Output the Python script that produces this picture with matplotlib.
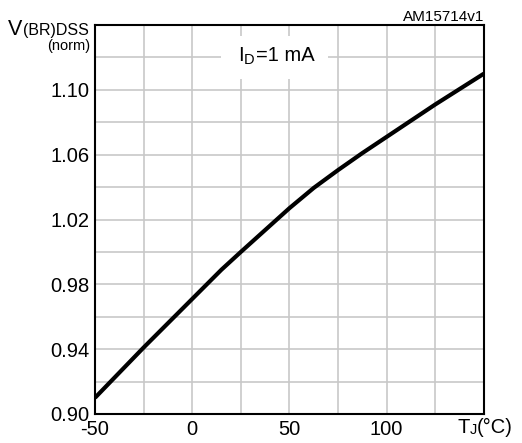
import matplotlib
matplotlib.use("Agg")
import matplotlib.pyplot as plt
from matplotlib.patches import Rectangle

plt.rcParams["font.family"] = ["Liberation Sans", "DejaVu Sans"]

# V(BR)DSS normalized vs junction temperature
temp_c = [-50, -25, 0, 10, 15, 25, 50, 62.5, 75, 87.5, 100, 125, 150]
v_norm = [0.910, 0.941, 0.971, 0.983, 0.989, 1.000, 1.027, 1.0395, 1.0505,
          1.061, 1.071, 1.091, 1.110]

x_ticks = [-50, 0, 50, 100]
y_ticks = [0.90, 0.94, 0.98, 1.02, 1.06, 1.10]

fig = plt.figure(figsize=(5.22, 4.43), dpi=100)
ax = fig.add_axes([0.182, 0.0655, 0.745, 0.878])

ax.set_xlim(-50, 150)
ax.set_ylim(0.90, 1.14)

# grid every 25 degC / 0.02
for gx in range(-25, 150, 25):
    ax.axvline(gx, color="#c8c8c8", lw=1.2, zorder=1)
for i in range(1, 12):
    ax.axhline(0.90 + 0.02 * i, color="#c8c8c8", lw=1.2, zorder=1)

# white box behind the condition label
ax.add_patch(Rectangle((15, 1.107), 55, 0.026, facecolor="white",
                       edgecolor="none", zorder=2))

ax.plot(temp_c, v_norm, color="black", lw=3.0, solid_capstyle="butt", zorder=3)

ax.set_xticks(x_ticks)
ax.set_xticklabels([str(t) for t in x_ticks], fontsize=14.5)
ax.set_yticks(y_ticks)
ax.set_yticklabels(["%.2f" % v for v in y_ticks], fontsize=14.5)
ax.tick_params(length=0, pad=4)

for sp in ax.spines.values():
    sp.set_linewidth(1.5)
    sp.set_color("black")

# condition label  I_D=1 mA
t1 = ax.text(23.5, 1.1155, "I", fontsize=14.5, va="bottom", zorder=4)
t2 = ax.annotate("D", xy=(1, 0), xycoords=t1, va="bottom", fontsize=10.5,
                 xytext=(0.5, -1.5), textcoords="offset points", zorder=4)
ax.annotate("=1 mA", xy=(1, 0), xycoords=t2, va="bottom", fontsize=14.5,
            xytext=(0.5, 1.5), textcoords="offset points", zorder=4)

# y axis title  V(BR)DSS (norm)
fig.text(8 / 522, 1 - 35 / 443, "V", fontsize=15.5, va="baseline")
fig.text(89 / 522, 1 - 35 / 443, "(BR)DSS", fontsize=11.5, va="baseline",
         ha="right")
fig.text(90 / 522, 1 - 50 / 443, "(norm)", fontsize=10.5, va="baseline",
         ha="right")

# x axis title  TJ(°C)
fig.text(458 / 522, 1 - 433 / 443, "T", fontsize=14.5, va="baseline")
fig.text(469.5 / 522, 1 - 434 / 443, "J", fontsize=10.5, va="baseline")
fig.text(477 / 522, 1 - 433 / 443, "(°C)", fontsize=14.5, va="baseline")

fig.text(484 / 522, 1 - 21 / 443, "AM15714v1", fontsize=11, ha="right",
         va="baseline")

fig.savefig("out.png", dpi=100)
